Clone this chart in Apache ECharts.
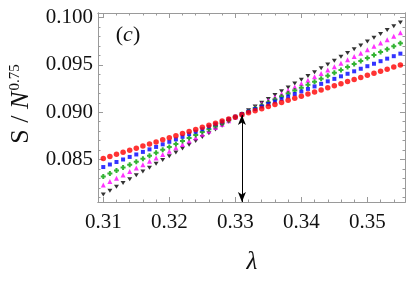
<!DOCTYPE html>
<html>
<head>
<meta charset="utf-8">
<script src="https://cdn.jsdelivr.net/npm/echarts@6/dist/echarts.min.js"></script>
<style>html,body{margin:0;padding:0;background:#fff;}#c{width:407px;height:283px;}</style>
</head>
<body>
<div id="c"></div>
<script>
var lambda = [0.310,0.311,0.312,0.313,0.314,0.315,0.316,0.317,0.318,0.319,0.320,0.321,0.322,0.323,0.324,0.325,0.326,0.327,0.328,0.329,0.330,0.331,0.332,0.333,0.334,0.335,0.336,0.337,0.338,0.339,0.340,0.341,0.342,0.343,0.344,0.345,0.346,0.347,0.348,0.349,0.350,0.351,0.352,0.353,0.354,0.355];
var redVals = [0.08510,0.08532,0.08554,0.08576,0.08598,0.08620,0.08642,0.08664,0.08686,0.08708,0.08730,0.08752,0.08774,0.08796,0.08818,0.08840,0.08862,0.08884,0.08906,0.08928,0.08950,0.08972,0.08994,0.09016,0.09038,0.09060,0.09082,0.09104,0.09126,0.09148,0.09170,0.09192,0.09214,0.09236,0.09258,0.09280,0.09302,0.09324,0.09346,0.09368,0.09390,0.09412,0.09434,0.09456,0.09478,0.09500];
var blueVals = [0.08420,0.08447,0.08473,0.08500,0.08527,0.08553,0.08580,0.08607,0.08633,0.08660,0.08687,0.08713,0.08740,0.08767,0.08793,0.08820,0.08847,0.08873,0.08900,0.08927,0.08953,0.08980,0.09007,0.09033,0.09060,0.09087,0.09113,0.09140,0.09167,0.09193,0.09220,0.09247,0.09273,0.09300,0.09327,0.09353,0.09380,0.09407,0.09433,0.09460,0.09487,0.09513,0.09540,0.09567,0.09593,0.09620];
var greenVals = [0.08320,0.08351,0.08383,0.08414,0.08445,0.08477,0.08508,0.08539,0.08571,0.08602,0.08633,0.08665,0.08696,0.08727,0.08759,0.08790,0.08821,0.08853,0.08884,0.08915,0.08947,0.08978,0.09009,0.09041,0.09072,0.09103,0.09135,0.09166,0.09197,0.09229,0.09260,0.09291,0.09323,0.09354,0.09385,0.09417,0.09448,0.09479,0.09511,0.09542,0.09573,0.09605,0.09636,0.09667,0.09699,0.09730];
var magentaVals = [0.08230,0.08266,0.08302,0.08337,0.08373,0.08409,0.08445,0.08480,0.08516,0.08552,0.08588,0.08624,0.08659,0.08695,0.08731,0.08767,0.08802,0.08838,0.08874,0.08910,0.08946,0.08981,0.09017,0.09053,0.09089,0.09124,0.09160,0.09196,0.09232,0.09268,0.09303,0.09339,0.09375,0.09411,0.09446,0.09482,0.09518,0.09554,0.09590,0.09625,0.09661,0.09697,0.09733,0.09768,0.09804,0.09840];
var blackVals = [0.08130,0.08170,0.08211,0.08251,0.08292,0.08332,0.08373,0.08413,0.08454,0.08494,0.08534,0.08575,0.08615,0.08656,0.08696,0.08737,0.08777,0.08818,0.08858,0.08898,0.08939,0.08979,0.09020,0.09060,0.09101,0.09141,0.09181,0.09222,0.09262,0.09303,0.09343,0.09384,0.09424,0.09465,0.09505,0.09545,0.09586,0.09626,0.09667,0.09707,0.09748,0.09788,0.09829,0.09869,0.09910,0.09950];
var xMajorTicks = [0.31,0.32,0.33,0.34,0.35];
var xMinorTicks = [0.310,0.312,0.314,0.316,0.318,0.320,0.322,0.324,0.326,0.328,0.330,0.332,0.334,0.336,0.338,0.340,0.342,0.344,0.346,0.348,0.350,0.352,0.354];
var yMajorTicks = [0.085,0.090,0.095,0.100];
var yMinorTicks = [0.081,0.082,0.083,0.084,0.085,0.086,0.087,0.088,0.089,0.090,0.091,0.092,0.093,0.094,0.095,0.096,0.097,0.098,0.099,0.100];
var arrowX = 0.331;
var arrowY = [0.0897, 0.0805];
var xRange = [0.3092, 0.3557];
var yRange = [0.0805, 0.1005];

var FONT = 'Liberation Serif';
var frameColor = '#9a9a9a';
function pts(v){ return lambda.map(function(x,i){ return [x, v[i]]; }); }
function xAx(pos, ticks, len, labels){
  return {type:'value', position:pos, min:xRange[0], max:xRange[1],
    axisLine:{show:true, lineStyle:{color:frameColor, width:1}},
    axisTick:{show:true, inside:true, length:len, customValues:ticks, lineStyle:{color:frameColor}},
    axisLabel:labels ? {show:true, customValues:xMajorTicks, margin:10, color:'#111', fontFamily:FONT, fontSize:21,
      formatter:function(v){return v.toFixed(2);}} : {show:false},
    splitLine:{show:false}};
}
function yAx(pos, ticks, len, labels){
  return {type:'value', position:pos, min:yRange[0], max:yRange[1],
    axisLine:{show:true, lineStyle:{color:frameColor, width:1}},
    axisTick:{show:true, inside:true, length:len, customValues:ticks, lineStyle:{color:frameColor}},
    axisLabel:labels ? {show:true, customValues:yMajorTicks, margin:5, color:'#111', fontFamily:FONT, fontSize:21,
      formatter:function(v){return v.toFixed(3);}} : {show:false},
    splitLine:{show:false}};
}
var chart = echarts.init(document.getElementById('c'), null, {renderer:'canvas'});
chart.setOption({
  animation:false,
  backgroundColor:'#fff',
  grid:{left:98, right:2, top:13, bottom:81, containLabel:false},
  xAxis:[xAx('bottom', xMajorTicks, 5, true), xAx('bottom', xMinorTicks, 2.5, false),
         xAx('top', xMajorTicks, 5, false), xAx('top', xMinorTicks, 2.5, false)],
  yAxis:[yAx('left', yMajorTicks, 5, true), yAx('left', yMinorTicks, 2.5, false),
         yAx('right', yMajorTicks, 5, false), yAx('right', yMinorTicks, 2.5, false)],
  graphic:[
    {type:'text', x:21, y:104, rotation:Math.PI/2, style:{
      text:'{s|S / }{n|N}{p|0.75}', align:'center', verticalAlign:'middle',
      rich:{ s:{fontFamily:FONT, fontSize:26, fill:'#111'},
             n:{fontFamily:FONT, fontSize:26, fontStyle:'italic', fill:'#111'},
             p:{fontFamily:FONT, fontSize:15, fill:'#111', padding:[0,0,11,1]} } }},
    {type:'text', x:252, y:262, style:{text:'λ', align:'center', verticalAlign:'middle',
      fontFamily:FONT, fontSize:25, fontStyle:'italic', fill:'#111'}},
    {type:'text', x:128, y:35, style:{text:'{a|(}{b|c}{a|)}', align:'center', verticalAlign:'middle',
      rich:{a:{fontFamily:FONT, fontSize:22, fill:'#111'}, b:{fontFamily:FONT, fontSize:22, fontStyle:'italic', fill:'#111'}}}}
  ],
  series:[
    {type:'scatter', name:'black', data:pts(blackVals), symbol:'path://M0,0H10L5,9Z', symbolSize:[5,4],
      itemStyle:{color:'#000'},
      markLine:{silent:true, symbol:['arrow','arrow'], symbolSize:[6,10], label:{show:false},
        lineStyle:{color:'#000', width:1, type:'solid'},
        data:[[{coord:[arrowX, arrowY[0]]},{coord:[arrowX, arrowY[1]]}]]}},
    {type:'scatter', name:'magenta', data:pts(magentaVals), symbol:'triangle', symbolSize:5, itemStyle:{color:'#ff00ff'}},
    {type:'scatter', name:'green', data:pts(greenVals), symbol:'path://M3,0H7V3H10V7H7V10H3V7H0V3H3Z', symbolSize:5, itemStyle:{color:'#00a000'}},
    {type:'scatter', name:'blue', data:pts(blueVals), symbol:'rect', symbolSize:4, itemStyle:{color:'#0000ff'}},
    {type:'scatter', name:'red', data:pts(redVals), symbol:'circle', symbolSize:5.5, itemStyle:{color:'#ff0000'}}
  ]
});
</script>
</body>
</html>
